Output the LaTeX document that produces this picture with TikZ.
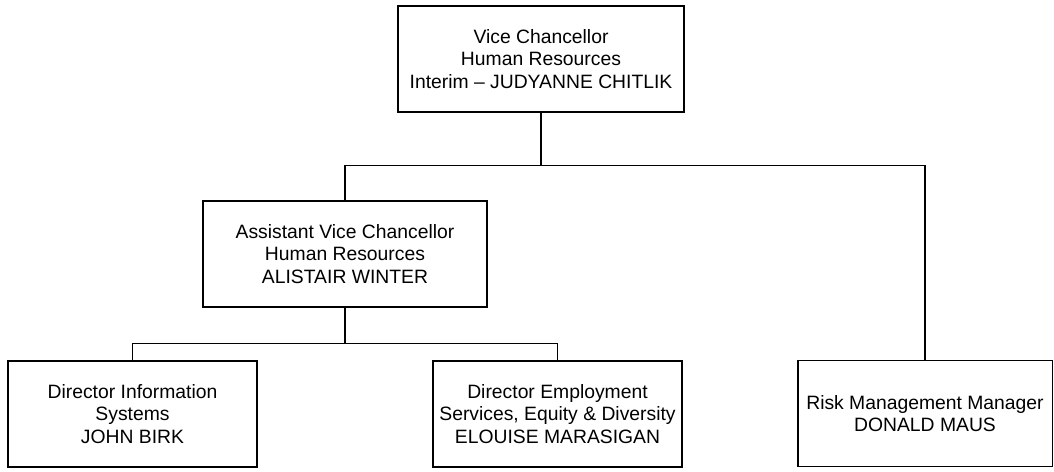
\documentclass[tikz,border=0pt]{standalone}
\usepackage{fontspec}
\setmainfont{Liberation Sans}
\usepackage{tikz}
\usetikzlibrary{positioning,calc}

\begin{document}
\begin{tikzpicture}[x=0.02cm, y=-0.02cm,
    post/.style={draw, line width=1.1pt, align=center, inner sep=1pt,
        minimum height=2.12cm, font=\fontsize{11}{13}\selectfont},
    link/.style={draw, line width=0.6pt}]
    \useasboundingbox (0,0) rectangle (1054,471);

    % top of the chart
    \node[post, minimum width=5.72cm] (vc) at (541,59)
        {Vice Chancellor\\Human Resources\\Interim -- JUDYANNE CHITLIK};

    \node[post, minimum width=5.68cm] (avc) at (345,254)
        {Assistant Vice Chancellor\\Human Resources\\ALISTAIR WINTER};

    % bottom row
    \node[post, minimum width=4.98cm] (dis) at (132.5,414)
        {Director Information\\Systems\\JOHN BIRK};
    \node[post, minimum width=4.98cm] (des) at (557.5,414)
        {Director Employment\\Services, Equity \& Diversity\\ELOUISE MARASIGAN};
    \node[post, minimum width=5.10cm] (rmm) at (925,413.5)
        {Risk Management Manager\\DONALD MAUS};

    \draw[link] (vc.south) -- ++(0,53) coordinate (top bus);
    \draw[link] (avc.north) |- (top bus) -| (rmm.north);

    \draw[link] (avc.south) -- ++(0,36) coordinate (mid bus);
    \draw[link] (dis.north) |- (mid bus) -| (des.north);
\end{tikzpicture}
\end{document}
